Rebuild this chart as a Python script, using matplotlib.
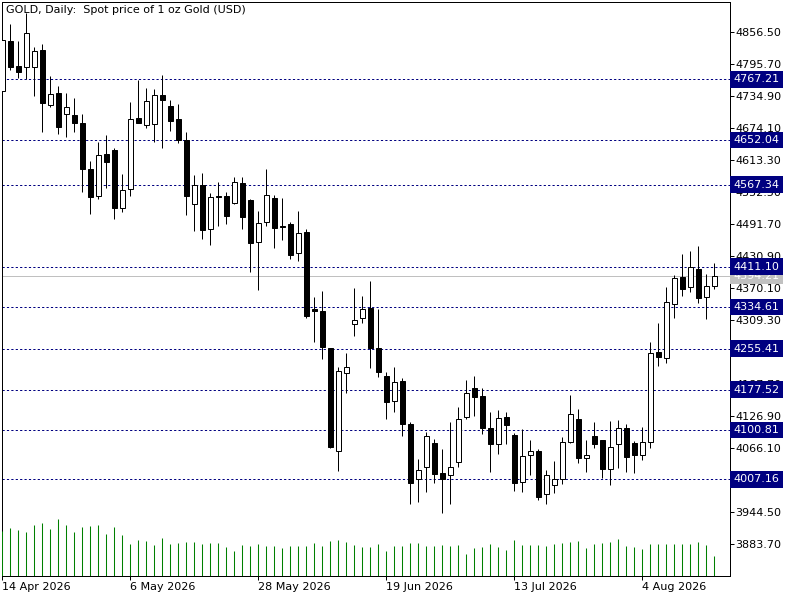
import numpy as np
import pandas as pd
import matplotlib
matplotlib.use('Agg')
import matplotlib.pyplot as plt

# daily candles, 14 Apr 2026 .. 17 Aug 2026 (weekdays)
dates = pd.bdate_range('2026-04-14', periods=90)

opens = [4745, 4840, 4792.5, 4791, 4791, 4823, 4718.4, 4740.6, 4700.7, 4698.8,
         4683.6, 4596.2, 4545.5, 4624.7, 4632.3, 4522.1, 4558.2, 4693.1, 4679.8, 4681.7,
         4737.4, 4715.9, 4691.2, 4651.9, 4529.7, 4566.4, 4483.4, 4545, 4545.5, 4531.6,
         4569.6, 4537.9, 4457.5, 4495.5, 4541.7, 4488.5, 4492.3, 4436.6, 4477.7, 4330.2,
         4327, 4256.1, 4061.6, 4208.6, 4301.7, 4313.1, 4333.3, 4257.3, 4204.1, 4156.6,
         4194, 4111.7, 4007.2, 4030, 4075.6, 4018.6, 4014.8, 4039.5, 4125, 4180.1,
         4165.5, 4104.1, 4073.7, 4125, 4091.4, 4001.5, 4052.8, 4061, 3978.7, 3995.8,
         4007.2, 4078.1, 4121.8, 4048.3, 4089.5, 4081.9, 4026.2, 4073.7, 4104.1, 4076.2,
         4052.8, 4078.7, 4249.1, 4237.1, 4339.7, 4391, 4372, 4406.8, 4353, 4374.5]
highs = [4870, 4872, 4840, 4892.6, 4829, 4834, 4773.5, 4754.5, 4740.6, 4731.1,
         4700.7, 4612, 4647.5, 4661.4, 4637.3, 4587.3, 4723.5, 4765.9, 4750.7, 4748.8,
         4775.4, 4727.9, 4719.7, 4666.5, 4585.4, 4588.6, 4551.8, 4572.7, 4553.7, 4581,
         4581, 4539.2, 4517, 4596.8, 4547.4, 4541.7, 4496.7, 4517, 4482.2, 4354.2,
         4365, 4257.3, 4220, 4247.8, 4371.3, 4355.5, 4384, 4330.2, 4210.5, 4220,
         4199.1, 4115.5, 4045.8, 4097.7, 4083.8, 4064.8, 4115.5, 4144, 4195.9, 4203.5,
         4180.1, 4134.5, 4138.9, 4134.5, 4094.6, 4102.8, 4081.9, 4064.8, 4024.9, 4042.6,
         4087.6, 4167.4, 4140.8, 4081.9, 4115.5, 4081.9, 4118, 4119.9, 4112.3, 4080,
         4107.2, 4267.5, 4303.6, 4373.2, 4395.4, 4435.3, 4441, 4450.5, 4397.3, 4417.6]
lows = [4730, 4785, 4769, 4767, 4736, 4667.7, 4715, 4663.3, 4658.2, 4667.7,
        4553.7, 4511.3, 4539.2, 4560.1, 4501.2, 4514.5, 4546.1, 4684, 4674.7, 4648.7,
        4637.3, 4669.6, 4645.6, 4509.4, 4479, 4463.8, 4452.4, 4489.1, 4491.7, 4530.3,
        4482.2, 4401.7, 4366.9, 4489.1, 4447.3, 4461.9, 4425.8, 4422.6, 4314.3, 4267.5,
        4235.2, 4067.3, 4023.6, 4170.6, 4280.1, 4304.8, 4219.3, 4201, 4121.2, 4135.7,
        4090.1, 3959.7, 3963.5, 3982.5, 3999.6, 3942.6, 3959.7, 4030, 4121.2, 4128.1,
        4092.7, 4021.7, 4054.7, 4073.7, 3985, 3983.7, 4015.4, 3967.9, 3959.7, 3981.8,
        3998.9, 4076.8, 4038.8, 4021.7, 4066.1, 4010.3, 3995.8, 4028.1, 4020.5, 4018.6,
        4043.9, 4066.1, 4223.1, 4228.8, 4313.1, 4356.1, 4362.5, 4342.8, 4311.2, 4368.2]
closes = [4842, 4791, 4781.7, 4854.6, 4821.6, 4722.8, 4738.7, 4677.2, 4715.2, 4683.6,
          4596.2, 4544.2, 4623.4, 4609.5, 4522.1, 4556.3, 4691.8, 4684.8, 4725.4, 4736.8,
          4728.5, 4688.6, 4651.3, 4546.1, 4565.8, 4480.9, 4543.6, 4543, 4508.1, 4571.5,
          4506.2, 4455.6, 4493.7, 4546.8, 4485.3, 4487, 4434, 4475.2, 4317.5, 4327.6,
          4259.2, 4069.2, 4212.4, 4220, 4309.3, 4330.2, 4256.1, 4210.5, 4154.7, 4191.5,
          4111.7, 3999.6, 4024.3, 4089.5, 4016.7, 4007.2, 4030, 4121.2, 4170.6, 4164.2,
          4105.3, 4073.7, 4123.1, 4110.4, 4000.8, 4050.9, 4060.4, 3974.2, 4014.8, 4007.2,
          4078.1, 4131.3, 4048.3, 4052.8, 4074.9, 4027.4, 4068, 4104.1, 4050.2, 4053.8,
          4078.1, 4246.6, 4240.2, 4343.5, 4389.1, 4368.2, 4410, 4351.1, 4375.1, 4394.21]
# tick volume (relative)
volumes = [45, 48, 46, 44, 51, 53, 47, 57, 51, 44, 49, 50, 51, 42, 49, 41, 32, 36, 35, 31,
           38, 32, 33, 34, 34, 32, 33, 33, 29, 25, 31, 30, 32, 30, 30, 28, 30, 30, 30, 33,
           30, 35, 36, 34, 31, 29, 29, 32, 25, 30, 30, 33, 33, 30, 30, 31, 30, 31, 22, 28,
           29, 32, 29, 26, 36, 31, 31, 31, 30, 32, 33, 34, 35, 28, 32, 33, 34, 37, 30, 29,
           27, 32, 32, 32, 32, 32, 32, 34, 31, 20]

levels = [4767.21, 4652.04, 4567.34, 4411.10, 4334.61, 4255.41, 4177.52, 4100.81, 4007.16]
last_price = 4394.21
price_ticks = [4856.50, 4795.70, 4734.90, 4674.10, 4613.30, 4552.50, 4491.70, 4430.90, 4370.10,
               4309.30, 4248.50, 4187.70, 4126.90, 4066.10, 4005.30, 3944.50, 3883.70]

opens = np.array(opens); highs = np.array(highs); lows = np.array(lows); closes = np.array(closes)
idx = np.arange(len(dates))
up = closes >= opens

fig = plt.figure(figsize=(8, 6), dpi=100)
ax = fig.add_axes([2/800, 24/600, 728/800, 574/600])

# volumes in the bottom of the window
ax2 = ax.twinx()
ax2.set_ylim(0, 574)
ax2.vlines(idx, 0, volumes, color='#008000', lw=0.75)
ax2.set_axis_off()

px = 0.72
ax.vlines(idx, lows, highs, color='black', lw=px, zorder=3)
body_lo = np.minimum(opens, closes)
body_h = np.abs(closes - opens)
ax.bar(idx[up], body_h[up], bottom=body_lo[up], width=0.55, color='white',
       edgecolor='black', linewidth=px, zorder=4)
ax.bar(idx[~up], body_h[~up], bottom=body_lo[~up], width=0.55, color='black',
       edgecolor='black', linewidth=px, zorder=4)

ax.set_xlim(-0.04, 90.96)
ax.set_ylim(3823.5, 4914.1)

# current price line
ax.axhline(last_price, color='#c0c0c0', lw=px, zorder=1)
ax.text(1.005, last_price, f'{last_price:.2f}', transform=ax.get_yaxis_transform(),
        ha='left', va='center', color='white', fontsize=8, clip_on=False, zorder=5,
        bbox=dict(boxstyle='square,pad=0.3', fc='#c0c0c0', ec='none'))

for lv in levels:
    ax.axhline(lv, color='#000080', lw=px, dashes=(2.2, 2.2), zorder=2)
    ax.text(1.005, lv, f'{lv:.2f}', transform=ax.get_yaxis_transform(),
            ha='left', va='center', color='white', fontsize=8, clip_on=False, zorder=6,
            bbox=dict(boxstyle='square,pad=0.3', fc='#000080', ec='none'))

ax.yaxis.tick_right()
ax.set_yticks(price_ticks)
ax.set_yticklabels([f'{v:.2f}' for v in price_ticks])
ax.tick_params(axis='y', length=3, width=px, pad=1, labelsize=8)

xt = idx[::16]
ax.set_xticks(xt)
ax.set_xticklabels([f'{d.day} {d:%b %Y}' for d in dates[::16]], ha='left')
ax.tick_params(axis='x', length=3, width=px, pad=1, labelsize=8)

for s in ax.spines.values():
    s.set_linewidth(px)

ax.text(0.006, 0.995, 'GOLD, Daily:  Spot price of 1 oz Gold (USD)', transform=ax.transAxes,
        ha='left', va='top', fontsize=8)

fig.savefig('out.png', dpi=100)
